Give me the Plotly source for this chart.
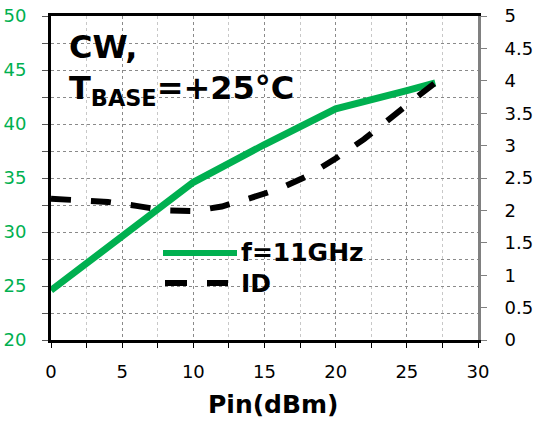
import plotly.graph_objects as go

# Data
pin_green = [0, 5, 10, 15, 20, 25, 27]
pout_green = [24.6, 29.6, 34.6, 38.1, 41.4, 43.1, 43.8]

pin_id = [0, 2, 4, 6, 8, 10, 12, 14, 16, 18, 20, 22, 24, 26, 27]
id_vals = [2.18, 2.16, 2.13, 2.07, 2.00, 1.99, 2.06, 2.19, 2.33, 2.53, 2.80, 3.10, 3.46, 3.80, 3.97]

legend_names = ["f=11GHz", "ID"]
x_ticks = [0, 5, 10, 15, 20, 25, 30]
yl_ticks = [20, 25, 30, 35, 40, 45, 50]
yr_ticks = [0, 0.5, 1, 1.5, 2, 2.5, 3, 3.5, 4, 4.5, 5]
yr_labels = ["0", "0.5", "1", "1.5", "2", "2.5", "3", "3.5", "4", "4.5", "5"]

GREEN = "#00B050"
FONT = "DejaVu Sans"

W, H = 536, 424
L, R, T, B = 51, 478, 16, 340  # plot area in page pixels


def px(x):
    return (x - L) / (R - L)


def py(y):
    return (B - y) / (B - T)


fig = go.Figure()
fig.add_trace(go.Scatter(x=pin_green, y=pout_green, mode="lines", name=legend_names[0],
                         line=dict(color=GREEN, width=7), yaxis="y", showlegend=False,
                         hoverinfo="skip"))
fig.add_trace(go.Scatter(x=pin_id, y=id_vals, mode="lines", name=legend_names[1],
                         line=dict(color="black", width=6, dash="20px,20px"), yaxis="y2",
                         showlegend=False, hoverinfo="skip"))

grid_major = "#8a8a8a"
grid_minor = "#c8c8c8"

fig.update_layout(
    width=W, height=H, autosize=False,
    margin=dict(l=L, r=W - R, t=T, b=H - B, pad=0, autoexpand=False),
    paper_bgcolor="white", plot_bgcolor="white",
    font=dict(family=FONT, size=18, color="black"),
    xaxis=dict(range=[0, 30], tickvals=x_ticks, ticktext=[str(v) for v in x_ticks],
               showline=True, linecolor="black", linewidth=3, mirror=True,
               ticks="outside", ticklen=5, tickcolor="black", tickwidth=1,
               showgrid=True, gridcolor=grid_major, griddash="dot", gridwidth=1,
               zeroline=False, ticklabelstandoff=8, automargin=False,
               ticklabeloverflow="allow",
               tickfont=dict(family=FONT, size=18, color="black"),
               minor=dict(dtick=2.5, tick0=0, showgrid=True, gridcolor=grid_minor,
                          griddash="dot", ticks="outside", ticklen=5, tickcolor="black")),
    yaxis=dict(range=[20, 50], tickvals=yl_ticks, ticktext=[str(v) for v in yl_ticks],
               showline=True, linecolor="black", linewidth=3,
               ticks="outside", ticklen=6, tickcolor="#555555", tickwidth=1,
               showgrid=True, gridcolor=grid_major, griddash="dot", gridwidth=1,
               zeroline=False, ticklabelstandoff=12, automargin=False,
               ticklabeloverflow="allow",
               tickfont=dict(family=FONT, size=18, color=GREEN),
               minor=dict(dtick=2.5, tick0=20, showgrid=True, gridcolor=grid_major,
                          griddash="dot", ticks="outside", ticklen=6, tickcolor="#555555")),
    yaxis2=dict(range=[0, 5], tickvals=yr_ticks, ticktext=yr_labels, overlaying="y",
                side="right", showline=True, linecolor="#808080", linewidth=3,
                ticks="outside", ticklen=6, tickcolor="#808080", tickwidth=1,
                showgrid=False, zeroline=False, ticklabelstandoff=14, automargin=False,
                ticklabeloverflow="allow",
                tickfont=dict(family=FONT, size=18, color="black")),
)

# white boxes over gridlines (title region and legend region)
fig.add_shape(type="rect", xref="paper", yref="paper", x0=0, x1=px(300), y0=py(111), y1=1,
              fillcolor="white", line=dict(width=0), layer="between")
fig.add_shape(type="rect", xref="paper", yref="paper", x0=px(137), x1=px(395), y0=py(298), y1=py(236),
              fillcolor="white", line=dict(width=0), layer="between")

# legend samples
fig.add_shape(type="line", xref="paper", yref="paper", x0=px(163), x1=px(237), y0=py(253), y1=py(253),
              line=dict(color=GREEN, width=6), layer="above")
for a, b in [(165, 187), (207, 228)]:
    fig.add_shape(type="line", xref="paper", yref="paper", x0=px(a), x1=px(b), y0=py(283), y1=py(283),
                  line=dict(color="black", width=6), layer="above")

fig.add_annotation(xref="paper", yref="paper", x=px(239), y=py(253), xanchor="left", yanchor="middle",
                   text="<b>" + legend_names[0] + "</b>", showarrow=False,
                   font=dict(family=FONT, size=25, color="black"))
fig.add_annotation(xref="paper", yref="paper", x=px(239), y=py(283), xanchor="left", yanchor="middle",
                   text="<b>" + legend_names[1] + "</b>", showarrow=False,
                   font=dict(family=FONT, size=25, color="black"))

# title text
fig.add_annotation(xref="paper", yref="paper", x=px(67), y=py(47), xanchor="left", yanchor="middle",
                   text="<b>CW,</b>", showarrow=False,
                   font=dict(family=FONT, size=32, color="black"))
fig.add_annotation(xref="paper", yref="paper", x=px(67), y=py(90), xanchor="left", yanchor="middle",
                   text="<b>T<sub>BASE</sub>=+25°C</b>", showarrow=False,
                   font=dict(family=FONT, size=32, color="black"))

# x-axis title
fig.add_annotation(xref="paper", yref="paper", x=px(273), y=py(404), xanchor="center", yanchor="middle",
                   text="<b>Pin(dBm)</b>", showarrow=False,
                   font=dict(family=FONT, size=25, color="black"))

fig.write_html("out.html", config={"displayModeBar": False},
               post_script="document.body.style.margin='0';document.body.style.overflow='hidden';")
